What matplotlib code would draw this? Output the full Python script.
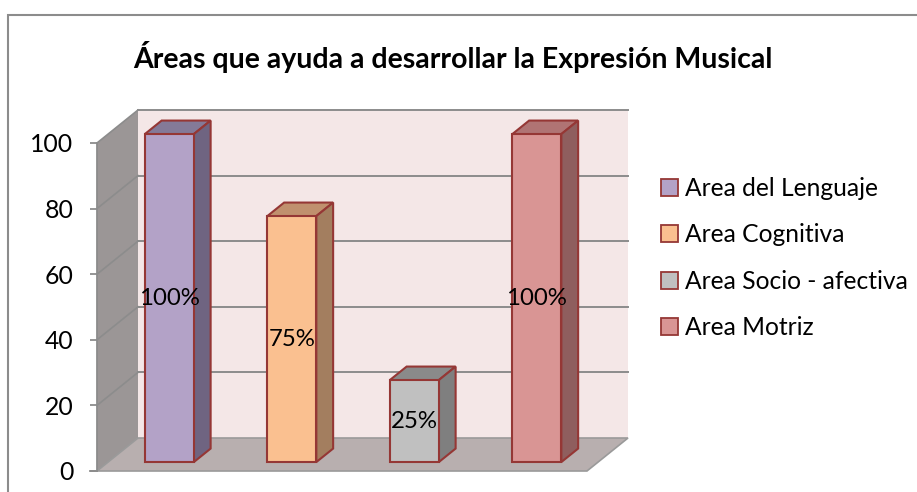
import numpy as np
import matplotlib
matplotlib.use("Agg")
import matplotlib.pyplot as plt
from matplotlib.patches import Polygon, Rectangle, Patch

plt.rcParams['font.family'] = ['Lato', 'DejaVu Sans']

# data
categories = ['Area del Lenguaje', 'Area Cognitiva', 'Area Socio - afectiva', 'Area Motriz']
values = [100, 75, 25, 100]
value_labels = ['100%', '75%', '25%', '100%']
title = 'Áreas que ayuda a desarrollar la Expresión Musical'

front_cols = ['#B3A2C7', '#FAC090', '#C0C0C0', '#D99594']
side_cols = ['#6F6481', '#A37E5F', '#7F7F7F', '#8F5E5E']
top_cols = ['#847A98', '#C0906E', '#8A8A8A', '#B07474']
edge_col = '#953735'

W, H = 917, 492
fig = plt.figure(figsize=(W / 100, H / 100), dpi=100)

# chart border
fig.patches.append(Rectangle((8 / W, -0.1), 1.2, 1 - 15 / H + 0.1, transform=fig.transFigure,
                             fill=False, edgecolor='#8C8C8C', lw=1.5))

ax = fig.add_axes([97 / W, 21 / H, 490 / W, 328 / H])
ax.set_xlim(-0.5, 3.5)
ax.set_ylim(0, 100)

# pixel -> data unit
ux = 4 / 490
uy = 100 / 328
DX, DY = 41 * ux, 33 * uy     # full depth of the 3d box
f0, f1 = 0.27, 0.68           # bar front/back depth fraction

x = np.arange(len(values))
x0, x1 = -0.5, 3.5

# walls and floor
wall_kw = dict(clip_on=False, zorder=0)
ax.add_patch(Polygon([(x0 + DX, DY), (x1 + DX, DY), (x1 + DX, 100 + DY), (x0 + DX, 100 + DY)],
                     closed=True, facecolor='#F4E7E7', edgecolor='none', **wall_kw))
ax.add_patch(Polygon([(x0, 0), (x0 + DX, DY), (x0 + DX, 100 + DY), (x0, 100)],
                     closed=True, facecolor='#9B9696', edgecolor='none', **wall_kw))
ax.add_patch(Polygon([(x0, 0), (x1, 0), (x1 + DX, DY), (x0 + DX, DY)],
                     closed=True, facecolor='#B8AFAF', edgecolor='#9A9A9A', lw=1.2, **wall_kw))

# gridlines
for v in range(20, 101, 20):
    ax.plot([x0 + DX, x1 + DX], [v + DY, v + DY], color='#8C8C8C', lw=1.4, clip_on=False, zorder=1)
    ax.plot([x0, x0 + DX], [v, v + DY], color='#8C8C8C', lw=1.2, clip_on=False, zorder=1)

# bars
bw = 0.4
xf = x + f0 * DX
base = f0 * DY
d = (f1 - f0)
ax.bar(xf, values, width=bw, bottom=base, color=front_cols, edgecolor=edge_col,
       linewidth=1.5, zorder=4, clip_on=False)
for i, v in enumerate(values):
    xl, xr = xf[i] - bw / 2, xf[i] + bw / 2
    top = base + v
    ax.add_patch(Polygon([(xl, top), (xr, top), (xr + d * DX, top + d * DY), (xl + d * DX, top + d * DY)],
                         closed=True, facecolor=top_cols[i], edgecolor=edge_col, lw=1.5,
                         clip_on=False, zorder=3))
    ax.add_patch(Polygon([(xr, base), (xr, top), (xr + d * DX, top + d * DY), (xr + d * DX, base + d * DY)],
                         closed=True, facecolor=side_cols[i], edgecolor=edge_col, lw=1.5,
                         clip_on=False, zorder=3))
    ax.text(xf[i], base + v / 2, value_labels[i], ha='center', va='center', fontsize=17.3,
            color='black', zorder=6)

# axis
for s in ['top', 'right', 'bottom']:
    ax.spines[s].set_visible(False)
ax.spines['left'].set_color('#8C8C8C')
ax.spines['left'].set_linewidth(1.3)
ax.set_yticks(range(0, 101, 20))
ax.tick_params(axis='y', length=5, width=1.3, color='#8C8C8C', pad=12, labelsize=17.8)
ax.set_xticks([])
ax.plot([x0 - 7 * ux, x0], [0, 0], color='#8C8C8C', lw=1.3, clip_on=False)

# legend
handles = [Patch(facecolor=c, edgecolor=edge_col, linewidth=1.3) for c in front_cols]
fig.legend(handles, categories, loc='center left', bbox_to_anchor=(661 / W, 1 - 258 / H),
           frameon=False, fontsize=17.7, handlelength=0.68, handleheight=0.68,
           handletextpad=0.3, labelspacing=0.95, borderpad=0, borderaxespad=0)

fig.text(453 / W, 1 - 57 / H, title, ha='center', va='center', fontsize=20.5, fontweight='bold')

fig.savefig('out.png', dpi=100)
